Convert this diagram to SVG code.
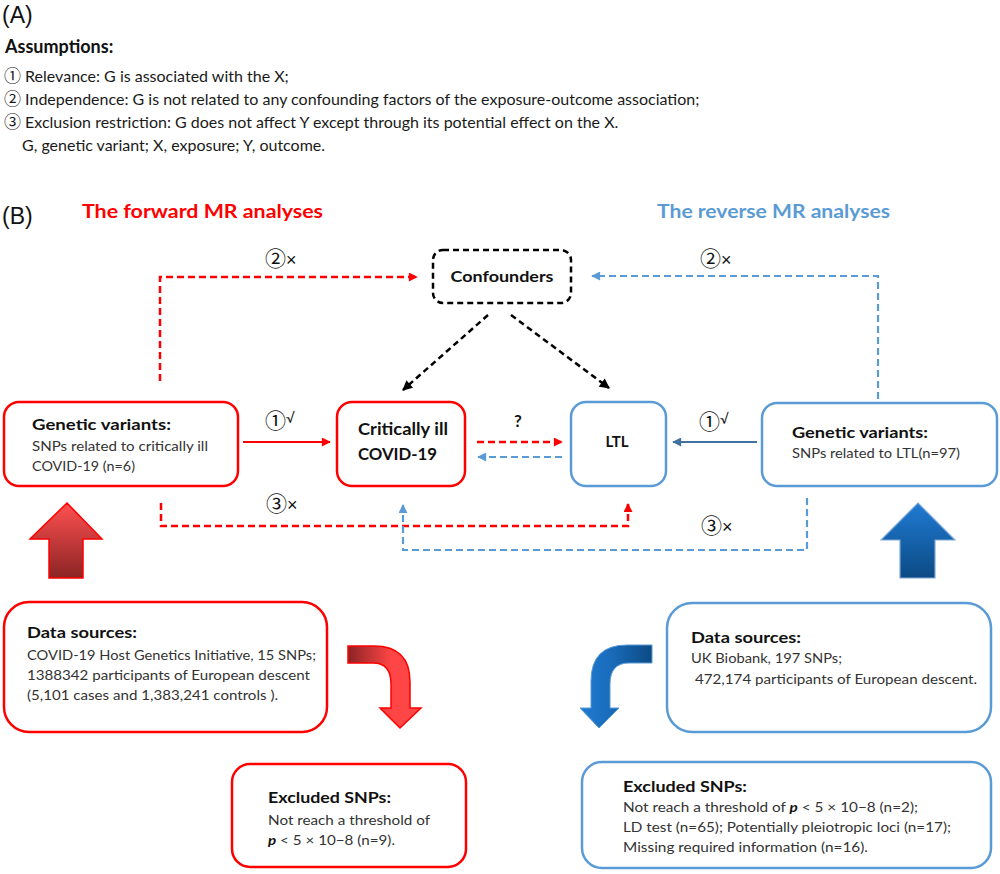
<svg xmlns="http://www.w3.org/2000/svg" width="1000" height="874" viewBox="0 0 1000 874">
<style>
.lbl{font-family:"Liberation Sans",Arial,sans-serif;font-size:23px;fill:#111}
.t{font-family:Lato,"Noto Sans CJK SC",sans-serif}
.c{font-family:"Noto Sans CJK SC","DejaVu Sans",sans-serif}
.ca{font-size:17px}
.cb{font-size:21px}
.x{font-family:"Liberation Sans",Arial,sans-serif;font-size:18px}
.a{font-size:16px;fill:#1a1a1a}
.h{font-size:16px;font-weight:bold;fill:#111}
.b{font-size:14px;fill:#333}
.n{font-size:15px;fill:#111}
.rbox{fill:#fff;stroke:#FF0000;stroke-width:2.5}
.bbox{fill:#fff;stroke:#5B9BD5;stroke-width:2.5}
.rd{fill:none;stroke:#FF0000;stroke-width:2.5;stroke-dasharray:7 4}
.bd{fill:none;stroke:#5B9BD5;stroke-width:2.2;stroke-dasharray:7 4}
.kd{fill:none;stroke:#000;stroke-width:2.5;stroke-dasharray:6 4}
</style>
<defs>
<marker id="mr" viewBox="0 0 10 10" refX="9" refY="5" markerUnits="userSpaceOnUse" markerWidth="10" markerHeight="9" orient="auto"><path d="M0,0 L10,5 L0,10 Z" fill="#FF0000"/></marker>
<marker id="mb" viewBox="0 0 10 10" refX="9" refY="5" markerUnits="userSpaceOnUse" markerWidth="10" markerHeight="9" orient="auto"><path d="M0,0 L10,5 L0,10 Z" fill="#5B9BD5"/></marker>
<marker id="mk" viewBox="0 0 10 10" refX="9" refY="5" markerUnits="userSpaceOnUse" markerWidth="11" markerHeight="10" orient="auto"><path d="M0,0 L10,5 L0,10 Z" fill="#000"/></marker>
<marker id="md" viewBox="0 0 10 10" refX="9" refY="5" markerUnits="userSpaceOnUse" markerWidth="10" markerHeight="9" orient="auto"><path d="M0,0 L10,5 L0,10 Z" fill="#41719C"/></marker>
<linearGradient id="gru" x1="0" y1="0" x2="0" y2="1"><stop offset="0" stop-color="#FF5050"/><stop offset="1" stop-color="#8B2424"/></linearGradient>
<linearGradient id="gbu" x1="0" y1="0" x2="0" y2="1"><stop offset="0" stop-color="#1F7BD3"/><stop offset="1" stop-color="#0C4A84"/></linearGradient>
<linearGradient id="grb" x1="0" y1="0" x2="1" y2="0"><stop offset="0" stop-color="#8B2424"/><stop offset="0.6" stop-color="#FF4545"/><stop offset="1" stop-color="#FF4848"/></linearGradient>
<linearGradient id="gbb" x1="0" y1="0" x2="1" y2="0"><stop offset="0" stop-color="#1F7BD3"/><stop offset="0.4" stop-color="#1A6DBD"/><stop offset="1" stop-color="#0C4A84"/></linearGradient>
</defs>

<g id="partA">
<text class="lbl" x="2" y="23">(A)</text>
<text class="t" x="5" y="53" style="font-size:18px;font-weight:bold;fill:#111">Assumptions:</text>
<text class="t a" x="4" y="82"><tspan class="c ca">①</tspan> Relevance: G is associated with the X;</text>
<text class="t a" x="4" y="105"><tspan class="c ca">②</tspan> Independence: G is not related to any confounding factors of the exposure-outcome association;</text>
<text class="t a" x="4" y="128"><tspan class="c ca">③</tspan> Exclusion restriction: G does not affect Y except through its potential effect on the X.</text>
<text class="t a" x="22" y="151">G, genetic variant; X, exposure; Y, outcome.</text>
</g>

<g id="titles">
<text class="lbl" x="2" y="224">(B)</text>
<text class="t" x="82" y="218" style="font-size:19px;font-weight:bold;fill:#FF0000" textLength="241" lengthAdjust="spacingAndGlyphs">The forward MR analyses</text>
<text class="t" x="657" y="218" style="font-size:19px;font-weight:bold;fill:#5B9BD5" textLength="233" lengthAdjust="spacingAndGlyphs">The reverse MR analyses</text>
</g>

<g id="connectors">
<path class="rd" d="M160,381 L160,277 L417,277" marker-end="url(#mr)"/>
<path class="bd" d="M878,443 L878,276 L592,276" marker-end="url(#mb)"/>
<path class="kd" d="M488,315 L403,390" marker-end="url(#mk)"/>
<path class="kd" d="M511,315 L609,388" marker-end="url(#mk)"/>
<path d="M243,442 L330,442" fill="none" stroke="#FF0000" stroke-width="2" marker-end="url(#mr)"/>
<path d="M757,442 L673,442" fill="none" stroke="#41719C" stroke-width="2" marker-end="url(#md)"/>
<path class="rd" d="M477,442 L562,442" marker-end="url(#mr)"/>
<path class="bd" d="M562,457 L478,457" marker-end="url(#mb)"/>
<path class="rd" d="M161,503 L161,526 L628,526 L628,504" marker-end="url(#mr)"/>
<path class="bd" d="M807,498 L807,550 L403,550 L403,505" marker-end="url(#mb)"/>
<text class="n" x="265" y="266"><tspan class="c cb">②</tspan><tspan class="x">×</tspan></text>
<text class="n" x="700" y="266"><tspan class="c cb">②</tspan><tspan class="x">×</tspan></text>
<text class="n" x="265" y="428"><tspan class="c cb">①</tspan><tspan class="t" font-size="14" dy="-5">√</tspan></text>
<text class="n" x="699" y="429"><tspan class="c cb">①</tspan><tspan class="t" font-size="14" dy="-5">√</tspan></text>
<text class="t" x="518" y="427" style="font-size:17px;font-weight:bold;fill:#111" text-anchor="middle">?</text>
<text class="n" x="266" y="511"><tspan class="c cb">③</tspan><tspan class="x">×</tspan></text>
<text class="n" x="701" y="533"><tspan class="c cb">③</tspan><tspan class="x">×</tspan></text>
</g>

<g id="confounders">
<rect x="433" y="250" width="138" height="53" rx="10" fill="#fff" stroke="#000" stroke-width="2.5" stroke-dasharray="6 4"/>
<text class="t h" x="502" y="282" text-anchor="middle" textLength="103" lengthAdjust="spacingAndGlyphs">Confounders</text>
</g>

<g id="gv-left">
<rect class="rbox" x="4" y="402" width="234" height="84" rx="15"/>
<text class="t h" x="32" y="430" textLength="139" lengthAdjust="spacingAndGlyphs">Genetic variants:</text>
<text class="t b" x="32" y="451" textLength="176" lengthAdjust="spacingAndGlyphs">SNPs related to critically ill</text>
<text class="t b" x="32" y="471" textLength="103" lengthAdjust="spacingAndGlyphs">COVID-19 (n=6)</text>
</g>

<g id="covid">
<rect class="rbox" x="337" y="402" width="128" height="84" rx="15"/>
<text class="t" x="358" y="435" style="font-size:17px;font-weight:bold;fill:#111" textLength="90" lengthAdjust="spacingAndGlyphs">Critically ill</text>
<text class="t" x="358" y="460" style="font-size:17px;font-weight:bold;fill:#111" textLength="79" lengthAdjust="spacingAndGlyphs">COVID-19</text>
</g>

<g id="ltl">
<rect class="bbox" x="571" y="402" width="95" height="84" rx="15"/>
<text class="t" x="617" y="447" style="font-size:15px;font-weight:bold;fill:#111" text-anchor="middle">LTL</text>
</g>

<g id="gv-right">
<rect class="bbox" x="762" y="403" width="235" height="83" rx="15"/>
<text class="t h" x="792" y="438" textLength="136" lengthAdjust="spacingAndGlyphs">Genetic variants:</text>
<text class="t b" x="792" y="458" textLength="168" lengthAdjust="spacingAndGlyphs">SNPs related to LTL(n=97)</text>
</g>

<g id="arrow-red-up">
<path d="M67,503 L102,539 L83,539 L83,578 L49,578 L49,539 L30,539 Z" fill="url(#gru)" stroke="#FF0000" stroke-width="1.5"/>
</g>
<g id="arrow-blue-up">
<path d="M918,503 L955,540 L935,540 L935,578 L900,578 L900,540 L881,540 Z" fill="url(#gbu)" stroke="#7FA9D6" stroke-width="1.2"/>
</g>

<g id="ds-left">
<rect class="rbox" x="4" y="602" width="323" height="130" rx="25"/>
<text class="t h" x="27" y="638" textLength="110" lengthAdjust="spacingAndGlyphs">Data sources:</text>
<text class="t b" x="27" y="660" textLength="289" lengthAdjust="spacingAndGlyphs">COVID-19 Host Genetics Initiative, 15 SNPs;</text>
<text class="t b" x="27" y="680" textLength="283" lengthAdjust="spacingAndGlyphs">1388342 participants of European descent</text>
<text class="t b" x="27" y="700" textLength="251" lengthAdjust="spacingAndGlyphs">(5,101 cases and 1,383,241 controls ).</text>
</g>

<g id="arrow-red-bent">
<path d="M348,646 L374,646 Q410,646 410,682 L410,708 L421,708 L400,728 L380,708 L391,708 L391,684 Q391,663 373,663 L348,663 Z" fill="url(#grb)" stroke="#FF0000" stroke-width="1.5"/>
</g>

<g id="ds-right">
<rect class="bbox" x="667" y="603" width="324" height="129" rx="25"/>
<text class="t h" x="691" y="643" textLength="110" lengthAdjust="spacingAndGlyphs">Data sources:</text>
<text class="t b" x="691" y="663" textLength="151" lengthAdjust="spacingAndGlyphs">UK Biobank, 197 SNPs;</text>
<text class="t b" x="695" y="684" textLength="282" lengthAdjust="spacingAndGlyphs">472,174 participants of European descent.</text>
</g>

<g id="arrow-blue-bent">
<path d="M652,645 L627,645 Q591,645 591,681 L591,708 L580,708 L599,728 L619,708 L610,708 L610,684 Q610,663 629,663 L652,663 Z" fill="url(#gbb)" stroke="#5B9BD5" stroke-width="1"/>
</g>

<g id="ex-left">
<rect class="rbox" x="232" y="764" width="234" height="103" rx="18"/>
<text class="t h" x="268" y="803" textLength="123" lengthAdjust="spacingAndGlyphs">Excluded SNPs:</text>
<text class="t b" x="268" y="825" textLength="162" lengthAdjust="spacingAndGlyphs">Not reach a threshold of</text>
<text class="t b" x="268" y="845" textLength="127" lengthAdjust="spacingAndGlyphs"><tspan style="font-weight:bold;font-style:italic;fill:#111">p</tspan> &lt; 5 × 10−8 (n=9).</text>
</g>

<g id="ex-right">
<rect class="bbox" x="582" y="762" width="409" height="106" rx="20"/>
<text class="t h" x="623" y="792" textLength="124" lengthAdjust="spacingAndGlyphs">Excluded SNPs:</text>
<text class="t b" x="623" y="812" textLength="295" lengthAdjust="spacingAndGlyphs">Not reach a threshold of <tspan style="font-weight:bold;font-style:italic;fill:#111">p</tspan> &lt; 5 × 10−8 (n=2);</text>
<text class="t b" x="623" y="832" textLength="328" lengthAdjust="spacingAndGlyphs">LD test (n=65); Potentially pleiotropic loci (n=17);</text>
<text class="t b" x="623" y="852" textLength="245" lengthAdjust="spacingAndGlyphs">Missing required information (n=16).</text>
</g>
</svg>
